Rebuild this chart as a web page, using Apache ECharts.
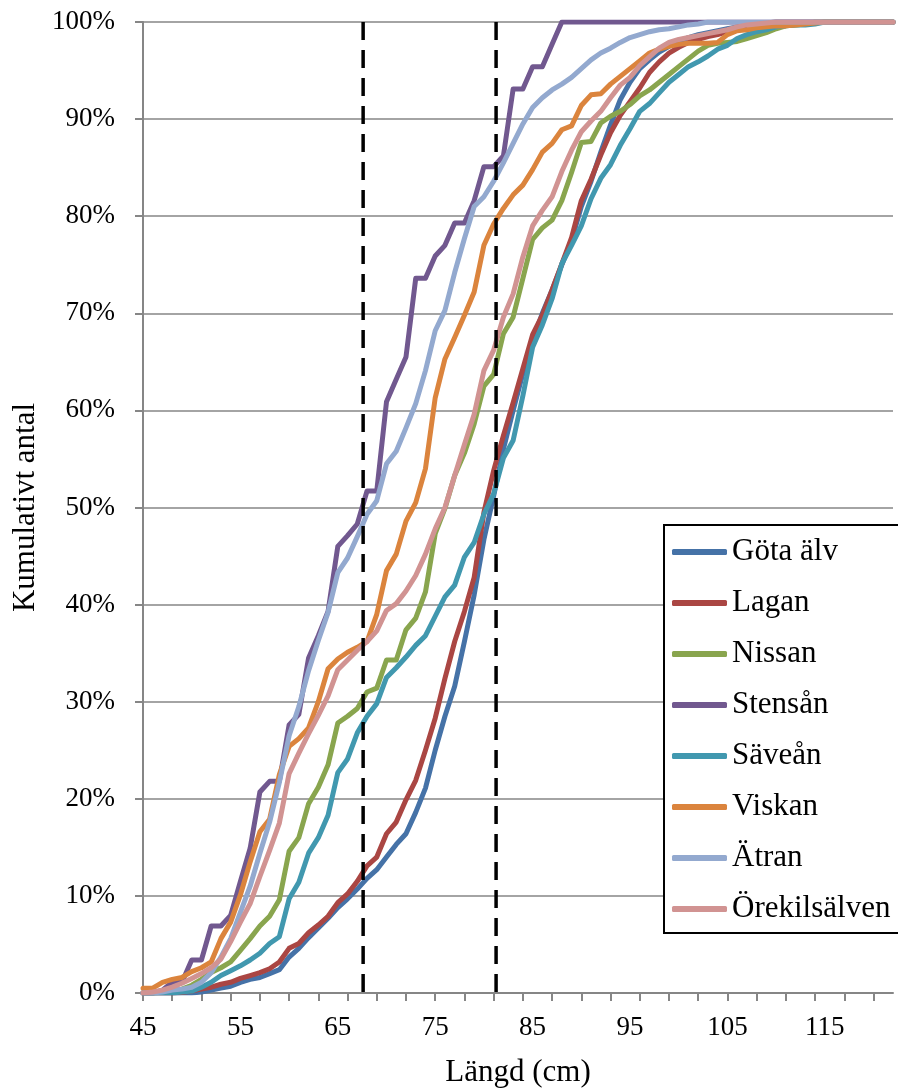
<!DOCTYPE html>
<html>
<head>
<meta charset="utf-8">
<script src="https://cdn.jsdelivr.net/npm/echarts@6/dist/echarts.min.js"></script>
<style>
  html, body { margin: 0; padding: 0; background: #fff; }
  #chart { width: 898px; height: 1088px; }
</style>
</head>
<body>
<div id="chart"></div>
<script>
// längd 45..122 cm
var lengths = []
for (var v = 45; v <= 122; v++) lengths.push(String(v))

var names = ['Göta älv', 'Lagan', 'Nissan', 'Stensån', 'Säveån', 'Viskan', 'Ätran', 'Örekilsälven']
var colors = ['#4572A7', '#AA4643', '#89A54E', '#71588F', '#4198AF', '#DB843D', '#93A9CF', '#D19392']

// kumulativt antal (%), ett värde per cm
var gota = [0, 0, 0, 0, 0, 0, 0.1, 0.3, 0.5, 0.7, 1.1, 1.4, 1.6, 2.0, 2.4, 3.7, 4.6, 5.7, 6.7, 7.7,
  8.8, 9.7, 10.7, 11.8, 12.7, 14.0, 15.3, 16.4, 18.6, 21.1, 25.0, 28.5, 31.6, 36.2, 41.0, 46.7, 51.2, 56.0, 60.0, 63.8,
  67.2, 70.0, 72.4, 75.0, 77.5, 81.0, 83.6, 86.6, 89.4, 92.0, 93.8, 95.2, 96.1, 96.9, 97.5, 98.0, 98.4, 98.7, 98.9, 99.1,
  99.3, 99.5, 99.7, 99.8, 99.9, 100, 100, 100, 100, 100, 100, 100, 100, 100, 100, 100, 100, 100]
var lagan = [0, 0, 0, 0, 0.05, 0.2, 0.4, 0.6, 0.9, 1.1, 1.5, 1.8, 2.1, 2.5, 3.2, 4.6, 5.1, 6.2, 7.0, 7.9,
  9.3, 10.2, 11.5, 13.1, 14.0, 16.4, 17.6, 19.9, 21.9, 25.0, 28.3, 32.4, 36.2, 39.3, 42.8, 49.5, 53.8, 57.4, 60.8, 64.3,
  67.8, 69.8, 72.4, 75.1, 77.8, 81.6, 83.8, 86.3, 88.6, 90.4, 91.8, 93.2, 94.8, 95.9, 96.8, 97.4, 97.9, 98.2, 98.5, 98.7,
  99.0, 99.3, 99.6, 99.8, 99.9, 100, 100, 100, 100, 100, 100, 100, 100, 100, 100, 100, 100, 100]
var nissan = [0, 0, 0.1, 0.2, 0.4, 0.8, 1.4, 2.1, 2.6, 3.2, 4.4, 5.6, 6.9, 7.9, 9.6, 14.6, 16.0, 19.5, 21.2, 23.5,
  27.8, 28.5, 29.3, 31.0, 31.4, 34.3, 34.3, 37.4, 38.6, 41.3, 47.3, 49.9, 53.3, 55.6, 58.6, 62.5, 63.7, 67.9, 69.6, 73.6,
  77.6, 78.8, 79.6, 81.6, 84.5, 87.6, 87.7, 89.6, 90.3, 90.8, 91.5, 92.4, 93.0, 93.8, 94.6, 95.4, 96.2, 97.0, 97.6, 97.8,
  97.9, 98.0, 98.3, 98.6, 98.9, 99.3, 99.6, 99.7, 99.8, 100, 100, 100, 100, 100, 100, 100, 100, 100]
var stens = [0, 0, 0.3, 1.1, 1.1, 3.4, 3.4, 6.9, 6.9, 8.0, 11.5, 14.9, 20.7, 21.8, 21.8, 27.6, 28.7, 34.5, 36.8, 39.3,
  46.0, 47.1, 48.3, 51.7, 51.7, 60.9, 63.2, 65.5, 73.6, 73.6, 75.9, 77.0, 79.3, 79.3, 81.6, 85.1, 85.1, 86.2, 93.1, 93.1,
  95.4, 95.4, 97.7, 100, 100, 100, 100, 100, 100, 100, 100, 100, 100, 100, 100, 100, 100, 100, 100, 100,
  100, 100, 100, 100, 100, 100, 100, 100, 100, 100, 100, 100, 100, 100, 100, 100, 100, 100]
var saveaan = [0, 0, 0, 0, 0.1, 0.2, 0.6, 1.1, 1.8, 2.3, 2.8, 3.4, 4.1, 5.1, 5.8, 9.7, 11.4, 14.4, 16.0, 18.3,
  22.7, 24.1, 26.8, 28.5, 29.8, 32.5, 33.5, 34.6, 35.8, 36.8, 38.8, 40.8, 42.0, 44.9, 46.4, 49.3, 51.4, 55.1, 56.9, 61.5,
  66.5, 68.8, 71.5, 75.1, 77.0, 79.0, 81.8, 83.9, 85.3, 87.3, 89.0, 90.8, 91.6, 92.7, 93.8, 94.6, 95.4, 95.9, 96.5, 97.2,
  97.6, 98.3, 98.7, 99.0, 99.2, 99.5, 99.6, 99.7, 99.7, 99.8, 100, 100, 100, 100, 100, 100, 100, 100]
var viskan = [0.5, 0.5, 1.1, 1.4, 1.6, 2.2, 2.6, 3.2, 5.6, 7.3, 10.1, 13.5, 16.6, 17.9, 22.5, 25.4, 26.2, 27.3, 30.0, 33.4,
  34.4, 35.1, 35.6, 36.2, 39.0, 43.5, 45.2, 48.6, 50.5, 54.0, 61.3, 65.3, 67.5, 69.8, 72.2, 77.0, 79.2, 80.8, 82.2, 83.2,
  84.8, 86.6, 87.5, 88.9, 89.3, 91.4, 92.5, 92.6, 93.6, 94.4, 95.2, 96.0, 96.8, 97.2, 97.5, 97.7, 97.8, 97.8, 97.8, 97.9,
  98.7, 99.1, 99.2, 99.4, 99.5, 99.6, 99.6, 99.7, 99.8, 99.9, 100, 100, 100, 100, 100, 100, 100, 100]
var atran = [0, 0, 0.1, 0.3, 0.4, 0.6, 1.1, 2.1, 3.7, 5.6, 8.3, 11.0, 14.4, 17.6, 21.7, 26.5, 29.5, 33.2, 36.3, 39.2,
  43.3, 44.8, 47.0, 49.3, 50.7, 54.5, 55.8, 58.2, 60.7, 64.1, 68.2, 70.3, 74.2, 77.7, 81.0, 82.0, 83.6, 85.5, 87.5, 89.5,
  91.2, 92.2, 93.0, 93.6, 94.3, 95.2, 96.1, 96.8, 97.3, 97.9, 98.4, 98.7, 99.0, 99.2, 99.3, 99.5, 99.7, 99.8, 100, 100,
  100, 100, 100, 100, 100, 100, 100, 100, 100, 100, 100, 100, 100, 100, 100, 100, 100, 100]
var orek = [0, 0.1, 0.3, 0.6, 1.0, 1.5, 2.0, 2.6, 3.5, 5.3, 7.3, 9.2, 12.0, 14.7, 17.5, 22.6, 24.7, 26.7, 28.6, 30.6,
  33.3, 34.3, 35.3, 36.2, 37.3, 39.4, 40.1, 41.4, 43.0, 45.2, 47.8, 50.0, 53.3, 56.5, 59.6, 64.1, 66.2, 69.6, 72.0, 75.8,
  79.0, 80.6, 82.0, 84.6, 86.8, 88.7, 89.8, 90.8, 92.2, 93.5, 94.3, 95.5, 96.4, 97.3, 97.9, 98.2, 98.4, 98.6, 98.8, 99.0,
  99.2, 99.5, 99.7, 99.8, 99.9, 100, 100, 100, 100, 100, 100, 100, 100, 100, 100, 100, 100, 100]

// streckade gränslinjer (cm)
var cutoffs = [67.6, 81.25]

var values = [gota, lagan, nissan, stens, saveaan, viskan, atran, orek]
var font = 'Liberation Serif, Times New Roman, serif'

var chart = echarts.init(document.getElementById('chart'))

var series = []
names.forEach(function (name, i) {
  series.push({
    name: name,
    type: 'line',
    data: values[i],
    symbol: 'none',
    showSymbol: false,
    color: colors[i],
    lineStyle: { width: 5, color: colors[i], join: 'round', cap: 'round' },
    z: 2
  })
})
cutoffs.forEach(function (c) {
  series.push({
    type: 'line',
    xAxisIndex: 1,
    data: [[c, 100], [c, 0]],
    symbol: 'none',
    silent: true,
    lineStyle: { color: '#000', width: 3.5, type: [18, 10] },
    z: 3
  })
})

var option = {
  animation: false,
  backgroundColor: '#fff',
  grid: { left: 143, right: 5, top: 22, bottom: 95, outerBoundsMode: 'none', containLabel: false },
  // legendens ram: öppen mot höger, den går ut över bildkanten
  graphic: [{
    type: 'rect',
    z: 3,
    silent: true,
    shape: { x: 664, y: 525, width: 240, height: 408 },
    style: { fill: '#fff' }
  }, {
    type: 'polyline',
    z: 3,
    silent: true,
    shape: { points: [[910, 525], [664, 525], [664, 933], [910, 933]] },
    style: { fill: null, stroke: '#000', lineWidth: 2 }
  }],
  legend: {
    data: names,
    orient: 'vertical',
    left: 663,
    top: 525,
    icon: 'roundRect',
    itemWidth: 55,
    itemHeight: 6,
    itemGap: 17,
    padding: [10, 5, 8, 9],
    z: 5,
    textStyle: { fontFamily: font, fontSize: 31, lineHeight: 34, color: '#000' }
  },
  xAxis: [
    {
      type: 'category',
      data: lengths,
      boundaryGap: false,
      name: 'Längd (cm)',
      nameLocation: 'middle',
      nameGap: 64,
      nameTextStyle: { fontFamily: font, fontSize: 31, color: '#000' },
      axisLine: { lineStyle: { color: '#868686', width: 2 } },
      axisTick: { interval: 2, length: 8, lineStyle: { color: '#868686', width: 2 } },
      axisLabel: { interval: 9, fontFamily: font, fontSize: 27, color: '#000', margin: 21 },
      splitLine: { show: false }
    },
    { type: 'value', min: 45, max: 122, show: false }
  ],
  yAxis: {
    type: 'value',
    min: 0,
    max: 100,
    interval: 10,
    name: 'Kumulativt antal',
    nameLocation: 'middle',
    nameGap: 100,
    nameRotate: 90,
    nameTextStyle: { fontFamily: font, fontSize: 31, color: '#000' },
    axisLine: { show: true, lineStyle: { color: '#868686', width: 2 } },
    axisTick: { show: true, length: 8, lineStyle: { color: '#868686', width: 2 } },
    axisLabel: { formatter: '{value}%', fontFamily: font, fontSize: 27, color: '#000', margin: 28 },
    splitLine: { lineStyle: { color: '#868686', width: 1.6 } }
  },
  series: series
}
chart.setOption(option)
</script>
</body>
</html>
